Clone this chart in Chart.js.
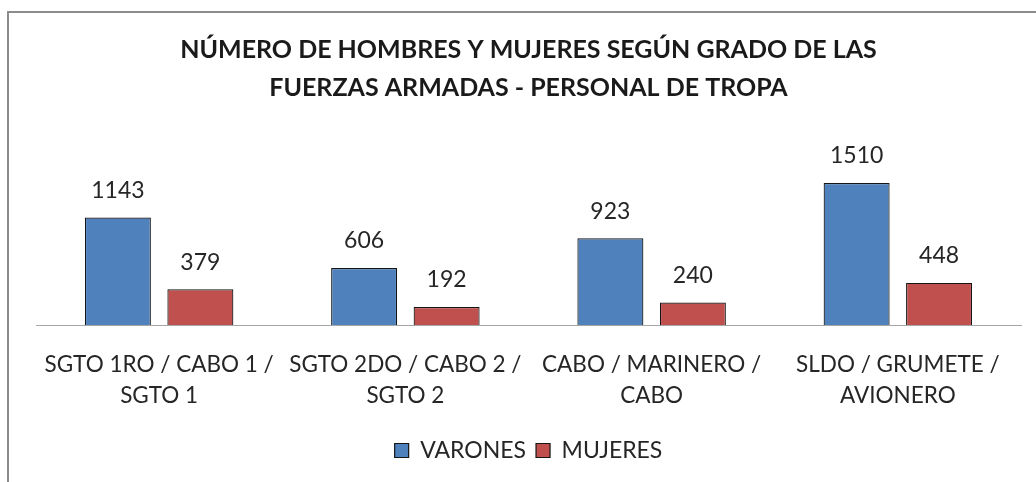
<!DOCTYPE html>
<html>
<head>
<meta charset="utf-8">
<script src="https://cdn.jsdelivr.net/npm/chart.js@4"></script>
<style>
  html, body { margin: 0; padding: 0; background: #fff; overflow: hidden; }
  #wrap { position: relative; width: 1036px; height: 482px; }
  #frame {
    position: absolute; left: 7px; top: 11px; width: 1100px; height: 600px;
    border-top: 2px solid #8c8c8c; border-left: 2px solid #8c8c8c;
  }
  canvas { position: absolute; left: 0; top: 0; }
</style>
</head>
<body>
<div id="wrap">
  <div id="frame"></div>
  <canvas id="chart" width="1036" height="482"></canvas>
</div>
<script>
// data
const categories = [
    ['SGTO 1RO / CABO 1 /', 'SGTO 1'],
    ['SGTO 2DO / CABO 2 /', 'SGTO 2'],
    ['CABO / MARINERO /', 'CABO'],
    ['SLDO / GRUMETE /', 'AVIONERO'],
];
const varones = [1143, 606, 923, 1510];
const mujeres = [379, 192, 240, 448];
const titleLines = ['NÚMERO DE HOMBRES Y MUJERES SEGÚN GRADO DE LAS', 'FUERZAS ARMADAS - PERSONAL DE TROPA'];

const FONT = 'Lato, "Open Sans", sans-serif';

// value labels above each bar
const barValues = {
    id: 'barValues',
    afterDatasetsDraw(chart) {
        const ctx = chart.ctx;
        ctx.save();
        ctx.font = '23px ' + FONT;
        ctx.fillStyle = '#262626';
        ctx.textAlign = 'center';
        ctx.textBaseline = 'middle';
        chart.data.datasets.forEach((ds, i) => {
            chart.getDatasetMeta(i).data.forEach((bar, j) => {
                ctx.fillText(String(ds.data[j]), bar.x, bar.y - 27);
            });
        });
        ctx.restore();
    }
};

const ctx = document.getElementById('chart').getContext('2d');
new Chart(ctx, {
    type: 'bar',
    data: {
        labels: categories,
        datasets: [
            {
                label: 'VARONES',
                data: varones,
                backgroundColor: '#4F81BD',
                borderColor: '#151515',
                borderWidth: 1.2,
            },
            {
                label: 'MUJERES',
                data: mujeres,
                backgroundColor: '#C0504D',
                borderColor: '#151515',
                borderWidth: 1.2,
            },
        ],
    },
    options: {
        responsive: false,
        animation: false,
        layout: { padding: { left: 36, right: 15, top: 0, bottom: 10 } },
        datasets: {
            bar: { barPercentage: 0.8, categoryPercentage: 0.67 },
        },
        plugins: {
            title: {
                display: true,
                text: titleLines,
                color: '#1a1a1a',
                font: { family: FONT, size: 25, weight: 'bold', lineHeight: 1.52 },
                padding: { top: 31, bottom: 30 },
            },
            legend: {
                position: 'bottom',
                labels: {
                    boxWidth: 14,
                    boxHeight: 14,
                    padding: 10,
                    color: '#262626',
                    font: { family: FONT, size: 23 },
                },
            },
            tooltip: { enabled: false },
        },
        scales: {
            x: {
                grid: { display: false, drawTicks: false },
                border: { color: '#a6a6a6', width: 1 },
                ticks: {
                    color: '#262626',
                    font: { family: FONT, size: 22.5, lineHeight: 1.38 },
                    padding: 24,
                    maxRotation: 0,
                    autoSkip: false,
                },
                afterFit(scale) { scale.height = 104; },
            },
            y: {
                display: false,
                min: 0,
                max: 2000,
            },
        },
    },
    plugins: [barValues],
});
</script>
</body>
</html>
